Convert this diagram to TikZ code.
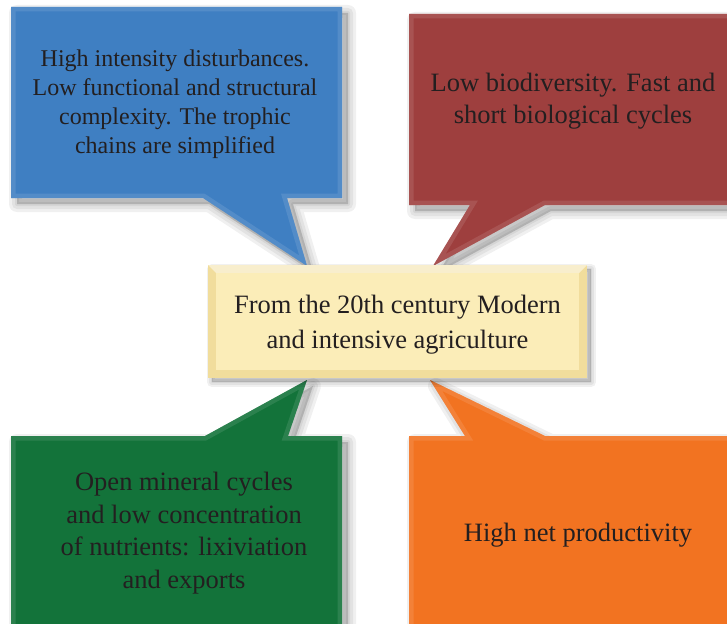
\documentclass[tikz,border=0pt]{standalone}
\usepackage{fontspec}
\setmainfont{Liberation Serif}
\definecolor{cblue}{HTML}{3F7FC2}
\definecolor{cred}{HTML}{9E3F3E}
\definecolor{cgreen}{HTML}{13733A}
\definecolor{corange}{HTML}{F27321}
\definecolor{cyel}{HTML}{FBEDB8}
\definecolor{cyeledge}{HTML}{F1DD9C}
\definecolor{ctext}{HTML}{231F20}
\newcommand\drawcallout[2]{%
  \foreach \w in {16,10,4}{%
    \path[fill=black,draw=black,opacity=0.06,line width=\w pt,line join=round,
          transform canvas={shift={(6pt,-6pt)}}] #2;}
  \fill[#1] #2;
  \begin{scope}
    \clip #2;
    \draw[#1!70!white,line width=9pt,opacity=0.35] #2;
  \end{scope}
}
\begin{document}
\begin{tikzpicture}[x=1pt,y=-1pt,
  lbl/.style={align=center, text=ctext, inner sep=0pt,
              font=\fontsize{26.5}{32.5}\selectfont},
  lblsmall/.style={lbl, font=\fontsize{24}{29}\selectfont}]
\useasboundingbox (0,0) rectangle (727,623);

% tail tips (touching the central box)
\coordinate (tipB) at (307,266);
\coordinate (tipR) at (433,266);
\coordinate (tipG) at (307,380);
\coordinate (tipO) at (430,380);

% blue callout
\drawcallout{cblue}{(11,7) -- (342,7) -- (342,198) -- (287,198) -- (tipB) -- (203,198) -- (11,198) -- cycle}
% red callout
\drawcallout{cred}{(409,14) -- (740,14) -- (740,205) -- (545,205) -- (tipR) -- (470,205) -- (409,205) -- cycle}
% green callout
\drawcallout{cgreen}{(11,436) -- (205,436) -- (tipG) -- (288,436) -- (342,436) -- (342,640) -- (11,640) -- cycle}
% orange callout
\drawcallout{corange}{(409,436) -- (465,436) -- (tipO) -- (545,436) -- (740,436) -- (740,640) -- (409,640) -- cycle}

% central box
\foreach \w in {10,6,2}{%
  \path[fill=black,draw=black,opacity=0.06,line width=\w pt,line join=round,
        transform canvas={shift={(4pt,-4pt)}}] (208,265) rectangle (587,378);}
\node[fill=cyeledge, minimum width=379pt, minimum height=113pt, inner sep=0pt] (ctr) at (397.5,321.5) {};
\fill[cyel] ([shift={(8pt,-8pt)}]ctr.north west) rectangle ([shift={(-8pt,8pt)}]ctr.south east);
\fill[white,opacity=0.5] (ctr.north west) -- (ctr.north east) -- ([shift={(-8pt,-8pt)}]ctr.north east) -- ([shift={(8pt,-8pt)}]ctr.north west) -- cycle;
\node[lbl, font=\fontsize{26.5}{35}\selectfont] (tctr) at (397.5,325) {From the 20th century Modern\\and intensive agriculture};

% texts
\node[lblsmall] (tblue) at (175,104) {High intensity disturbances.\\Low functional and structural\\complexity. The trophic\\chains are simplified};
\node[lbl] (tred) at (573,101) {Low biodiversity. Fast and\\short biological cycles};
\node[lbl] (tgreen) at (184,533) {Open mineral cycles\\and low concentration\\of nutrients: lixiviation\\and exports};
\node[lbl] (torange) at (578,535) {High net productivity};
\end{tikzpicture}
\end{document}
